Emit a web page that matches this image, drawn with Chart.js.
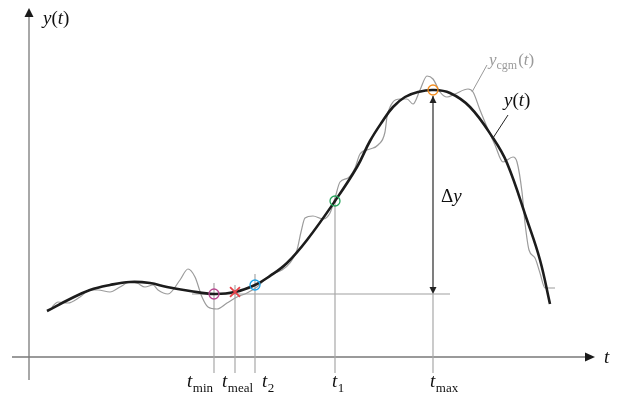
<!DOCTYPE html>
<html>
<head>
<meta charset="utf-8">
<script src="https://cdn.jsdelivr.net/npm/chart.js@4.4.0/dist/chart.umd.min.js"></script>
<style>
  html, body { margin: 0; padding: 0; background: #fff; }
  #chart { display: block; }
</style>
</head>
<body>
<canvas id="chart" width="620" height="396"></canvas>
<script>
// model curve y(t), in the units of the drawn axes (origin = axis crossing)
const modelT = [18, 41, 61, 81, 101, 121, 138, 161, 185, 206, 226, 241, 258, 278, 306, 328, 341, 353, 364, 376, 389, 404, 421, 441, 464, 478, 498, 511, 521];
const modelY = [46, 58, 67, 72, 75, 74, 70, 66, 63, 65, 72, 81, 94, 117, 156, 190, 216, 235, 250, 260, 265, 267, 264, 250, 219, 194, 137, 97, 53];

// noisy CGM reading y_cgm(t)
const cgmT = [23, 29, 39, 51, 61, 69, 81, 91, 101, 108, 116, 124, 129, 139, 151, 159, 166, 173, 179, 188, 198, 208, 218, 228, 241, 253, 261, 268, 272, 276, 284, 294, 301, 306, 311, 319, 326, 331, 341, 349, 356, 358, 364, 371, 378, 384, 391, 398, 404, 411, 418, 426, 439, 444, 451, 458, 466, 474, 484, 488, 493, 496, 500, 506, 511, 516, 526];
const cgmY = [50, 55, 54, 60, 67, 67, 65, 70, 75, 74, 70, 72, 67, 63, 77, 88, 80, 60, 50, 48, 54, 60, 64, 70, 82, 87, 94, 107, 125, 139, 141, 138, 144, 159, 175, 179, 189, 203, 208, 212, 225, 240, 255, 258, 258, 253, 267, 281, 278, 265, 260, 263, 268, 265, 247, 230, 212, 195, 200, 195, 165, 134, 107, 99, 84, 69, 69];

// special instants t_min, t_meal, t_2, t_1, t_max
const markerSubs = ['min', 'meal', '2', '1', 'max'];
const markerT = [185, 206, 226, 306, 404];
const markerY = [63, 65, 72, 156, 267];
const markerColors = ['#b8468f', '#e8434a', '#1ba3e8', '#27a55c', '#f28c1e'];
const markerStyles = ['circle', 'crossRot', 'circle', 'circle', 'circle'];
const guideTop = [74, 72, 83, 156, 63];
const guideBottom = -16;
const baseLevel = 63;          // level of y at t_min, start of the Δy arrow
const baseFrom = 163, baseTo = 421;

const axisT = [-17, 566];
const axisY = [-23, 349];

const serif = '"Liberation Serif", "DejaVu Serif", serif';

function mathText(ctx, parts, x0, base, size, color) {
  let cx = x0;
  ctx.fillStyle = color;
  ctx.textBaseline = 'alphabetic';
  ctx.textAlign = 'left';
  for (const p of parts) {
    const s = p.sub ? Math.round(size * 0.7) : size;
    ctx.font = (p.it ? 'italic ' : '') + s + 'px ' + serif;
    ctx.fillText(p.s, cx, base + (p.sub ? size * 0.25 : 0));
    cx += ctx.measureText(p.s).width + (p.gap || 0);
  }
}

function tri(ctx, x1, y1, x2, y2, x3, y3, color) {
  ctx.beginPath();
  ctx.moveTo(x1, y1);
  ctx.lineTo(x2, y2);
  ctx.lineTo(x3, y3);
  ctx.closePath();
  ctx.fillStyle = color;
  ctx.fill();
}

const overlay = {
  id: 'overlay',
  beforeDatasetsDraw(chart) {
    const { ctx, scales: { x, y } } = chart;
    ctx.save();
    ctx.strokeStyle = '#7a7a7a';
    ctx.lineWidth = 1.3;
    ctx.beginPath();
    ctx.moveTo(x.getPixelForValue(axisT[0]), y.getPixelForValue(0));
    ctx.lineTo(x.getPixelForValue(axisT[1]) - 8, y.getPixelForValue(0));
    ctx.moveTo(x.getPixelForValue(0), y.getPixelForValue(axisY[0]));
    ctx.lineTo(x.getPixelForValue(0), y.getPixelForValue(axisY[1]) + 8);
    ctx.stroke();
    ctx.restore();
  },
  afterDatasetsDraw(chart) {
    const { ctx, scales: { x, y } } = chart;
    const px = v => x.getPixelForValue(v);
    const py = v => y.getPixelForValue(v);
    ctx.save();

    // axis arrow heads
    const ax = px(axisT[1]), ay = py(0);
    tri(ctx, ax, ay, ax - 10, ay - 4.5, ax - 10, ay + 4.5, '#1a1a1a');
    const yx = px(0), yy = py(axisY[1]);
    tri(ctx, yx, yy, yx - 4.5, yy + 9, yx + 4.5, yy + 9, '#1a1a1a');

    // Δy arrow heads
    const dx = px(markerT[4]);
    const top = py(markerY[4]) + 6, bot = py(baseLevel);
    tri(ctx, dx, top, dx - 3.5, top + 7, dx + 3.5, top + 7, '#222');
    tri(ctx, dx, bot, dx - 3.5, bot - 7, dx + 3.5, bot - 7, '#222');

    // leader lines of the curve labels
    ctx.lineWidth = 1;
    ctx.strokeStyle = '#222';
    ctx.beginPath();
    ctx.moveTo(508, 115);
    ctx.lineTo(493, 138);
    ctx.stroke();
    ctx.strokeStyle = '#999';
    ctx.beginPath();
    ctx.moveTo(487, 65);
    ctx.lineTo(472, 92);
    ctx.stroke();

    // axis labels
    mathText(ctx, [{ s: 'y', it: true }, { s: '(' }, { s: 't', it: true }, { s: ')' }], px(0) + 14, py(axisY[1]) + 16, 19, '#111');
    mathText(ctx, [{ s: 't', it: true }], ax + 9, ay + 6, 19, '#111');

    // curve labels
    mathText(ctx, [{ s: 'y', it: true }, { s: '(' }, { s: 't', it: true }, { s: ')' }], 504, 106, 19, '#111');
    mathText(ctx, [{ s: 'y', it: true }, { s: 'cgm', sub: true, gap: 1 }, { s: '(' }, { s: 't', it: true }, { s: ')' }], 489, 65, 17, '#9a9a9a');

    // Δy
    mathText(ctx, [{ s: 'Δ' }, { s: 'y', it: true }], dx + 8, 202, 19, '#111');

    // tick labels under the guide lines
    const shift = [-27, -13, 7, -3, -3];
    markerSubs.forEach((sub, i) => {
      mathText(ctx, [{ s: 't', it: true, gap: 0.5 }, { s: sub, sub: true }], px(markerT[i]) + shift[i], 387, 19, '#111');
    });

    ctx.restore();
  }
};

const line = (data, color, width, order, extra) => Object.assign({
  data, borderColor: color, borderWidth: width, pointRadius: 0,
  fill: false, order, showLine: true
}, extra || {});

const datasets = [];

// markers
markerT.forEach((t, i) => {
  datasets.push({
    data: [{ x: t, y: markerY[i] }],
    showLine: false,
    pointStyle: markerStyles[i],
    pointRadius: markerStyles[i] === 'circle' ? 5 : 7,
    pointBorderWidth: markerStyles[i] === 'circle' ? 1.3 : 1.8,
    pointBorderColor: markerColors[i],
    pointBackgroundColor: 'rgba(0,0,0,0)',
    order: 0
  });
});

// model and CGM curves
datasets.push(line(modelT.map((t, i) => ({ x: t, y: modelY[i] })), '#1c1c1c', 2.6, 1, { tension: 0.4 }));
datasets.push(line(cgmT.map((t, i) => ({ x: t, y: cgmY[i] })), '#9b9b9b', 1.2, 2, { cubicInterpolationMode: 'monotone' }));

// Δy shaft
datasets.push(line([{ x: markerT[4], y: markerY[4] - 6 }, { x: markerT[4], y: baseLevel + 6 }], '#2a2a2a', 1.2, 3));

// guide lines
markerT.forEach((t, i) => {
  datasets.push(line([{ x: t, y: guideTop[i] }, { x: t, y: guideBottom }], '#a8a8a8', 1.2, 4));
});
datasets.push(line([{ x: baseFrom, y: baseLevel }, { x: baseTo, y: baseLevel }], '#a0a0a0', 1.2, 4));

new Chart(document.getElementById('chart'), {
  type: 'scatter',
  data: { datasets },
  options: {
    responsive: false,
    animation: false,
    layout: { padding: 0, autoPadding: false },
    plugins: { legend: { display: false }, tooltip: { enabled: false } },
    scales: {
      x: { type: 'linear', min: -29, max: 591, display: false },
      y: { type: 'linear', min: -39, max: 357, display: false }
    }
  },
  plugins: [overlay]
});
</script>
</body>
</html>
